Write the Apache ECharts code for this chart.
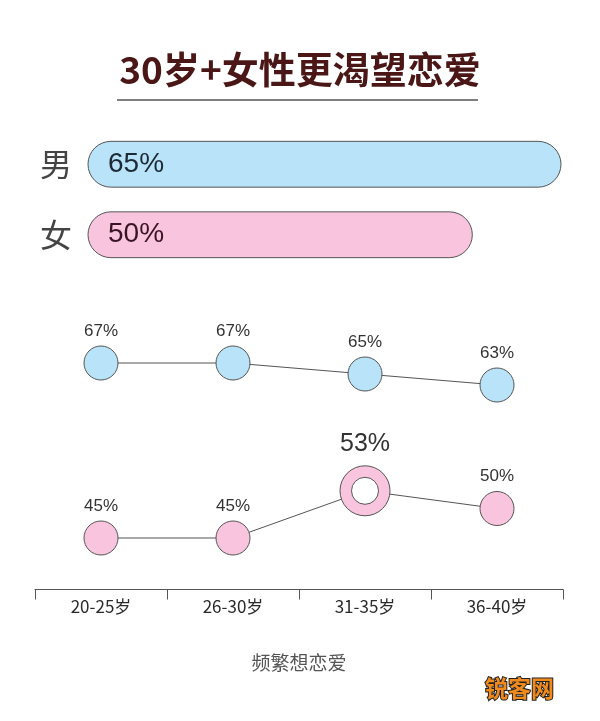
<!DOCTYPE html>
<html><head><meta charset="utf-8">
<script src="https://cdn.jsdelivr.net/npm/echarts@6/dist/echarts.min.js"></script>
<style>html,body{margin:0;padding:0;background:#fff}#c{width:600px;height:721px}</style>
</head><body><div id="c"></div>
<script>
const titleText = '30岁+女性更渴望恋爱';
const genders = ['男', '女'];
const genderValues = [65, 50];
const ageGroups = ['20-25岁', '26-30岁', '31-35岁', '36-40岁'];
const maleByAge = [67, 67, 65, 63];
const femaleByAge = [45, 45, 53, 50];
const axisTitle = '频繁想恋爱';
const watermark = '锐客网';

const BLUE = '#b9e3f8', PINK = '#f9c5de', EDGE = '#555';
const CJK = '"Noto Sans CJK SC", sans-serif';
const NUM = '"Liberation Sans", Arial, sans-serif';
const barMin = -15;
const hiIdx = femaleByAge.indexOf(Math.max(...femaleByAge));

const chart = echarts.init(document.getElementById('c'), null, {renderer: 'canvas'});
chart.setOption({
  backgroundColor: '#fff',
  animation: false,
  title: {
    text: titleText, left: 'center', top: 46,
    textStyle: {fontFamily: CJK, fontSize: 37, fontWeight: 'bold', color: '#4a1616'}
  },
  graphic: [
    {type: 'line', shape: {x1: 117, y1: 100, x2: 478, y2: 100}, style: {stroke: '#555', lineWidth: 1.5}},
    {type: 'text', right: 45, top: 676, style: {text: watermark, font: 'bold 23px ' + CJK, fill: '#f08a1c', stroke: '#222', lineWidth: 2}}
  ],
  grid: [
    {left: 88, right: 39, top: 129, height: 141},
    {left: 35, right: 37, top: 319, height: 110},
    {left: 35, right: 37, top: 449.5, height: 118}
  ],
  xAxis: [
    {gridIndex: 0, type: 'value', min: barMin, max: 65, show: false},
    {gridIndex: 1, type: 'category', data: ageGroups, show: false},
    {gridIndex: 2, type: 'category', data: ageGroups, offset: 22,
     name: axisTitle, nameLocation: 'middle', nameGap: 64,
     nameTextStyle: {fontFamily: CJK, fontSize: 19, color: '#555'},
     axisLine: {lineStyle: {color: '#555', width: 1}},
     axisTick: {show: true, length: 10, lineStyle: {color: '#555'}},
     axisLabel: {fontFamily: CJK, fontSize: 17, color: '#2a2a2a', margin: 9}}
  ],
  yAxis: [
    {gridIndex: 0, type: 'category', data: genders, inverse: true,
     axisLine: {show: false}, axisTick: {show: false},
     axisLabel: {fontFamily: CJK, fontSize: 32, color: '#444', margin: 16}},
    {gridIndex: 1, type: 'value', min: 55, max: 75, show: false},
    {gridIndex: 2, type: 'value', min: 40, max: 60, show: false}
  ],
  series: [
    {
      type: 'custom', xAxisIndex: 0, yAxisIndex: 0,
      data: genderValues.map((v, i) => [v, i]),
      encode: {x: 0, y: 1},
      renderItem: function (params, api) {
        const v = api.value(0), c = api.value(1);
        const s = api.coord([barMin, c]), e = api.coord([v, c]);
        const h = api.size([0, 1])[1] * 0.65;
        const fill = c === 0 ? BLUE : PINK;
        return {
          type: 'group', children: [
            {type: 'rect', shape: {x: s[0], y: s[1] - h / 2, width: e[0] - s[0], height: h, r: h / 2},
             style: {fill: fill, stroke: EDGE, lineWidth: 1}},
            {type: 'text', x: s[0] + 20, y: s[1],
             style: {text: v + '%', font: '28px ' + NUM, fill: c === 0 ? '#1c2a36' : '#3a1424', verticalAlign: 'middle', align: 'left'}}
          ]
        };
      }
    },
    {
      type: 'line', xAxisIndex: 1, yAxisIndex: 1, data: maleByAge,
      symbol: 'circle', symbolSize: 34,
      lineStyle: {color: EDGE, width: 1},
      itemStyle: {color: BLUE, borderColor: EDGE, borderWidth: 1},
      label: {show: true, position: 'top', distance: 6, formatter: '{c}%', fontFamily: NUM, fontSize: 17, color: '#333'}
    },
    {
      type: 'line', xAxisIndex: 2, yAxisIndex: 2,
      data: femaleByAge.map((v, i) => i === hiIdx ? {
        value: v, symbolSize: 50,
        label: {fontSize: 25, distance: 9}
      } : v),
      symbol: 'circle', symbolSize: 34,
      lineStyle: {color: EDGE, width: 1},
      itemStyle: {color: PINK, borderColor: EDGE, borderWidth: 1},
      label: {show: true, position: 'top', distance: 6, formatter: '{c}%', fontFamily: NUM, fontSize: 17, color: '#333'},
      z: 3
    },
    {
      type: 'line', xAxisIndex: 2, yAxisIndex: 2,
      data: femaleByAge.map((v, i) => i === hiIdx ? v : null),
      symbol: 'circle', symbolSize: 27, showSymbol: true,
      lineStyle: {opacity: 0},
      itemStyle: {color: '#fff', borderColor: EDGE, borderWidth: 1},
      z: 4
    }
  ]
});
</script></body></html>
